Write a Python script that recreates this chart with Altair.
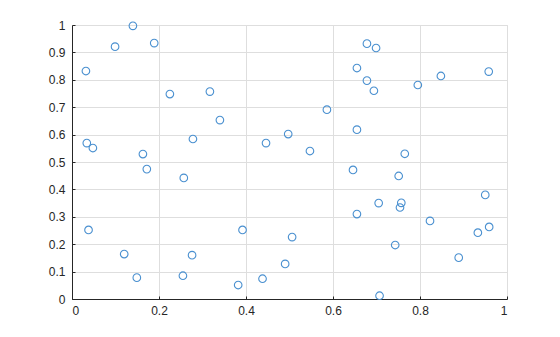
import altair as alt
import pandas as pd

xs = [0.032, 0.140, 0.099, 0.189, 0.225, 0.317, 0.340, 0.034, 0.048, 0.163,
      0.278, 0.446, 0.497, 0.678, 0.699, 0.655, 0.678, 0.694, 0.795, 0.848,
      0.958, 0.586, 0.655, 0.547, 0.765, 0.172, 0.257, 0.038, 0.120, 0.149,
      0.255, 0.276, 0.392, 0.382, 0.438, 0.490, 0.506, 0.646, 0.751, 0.950,
      0.705, 0.757, 0.754, 0.655, 0.823, 0.933, 0.959, 0.743, 0.889, 0.707]
ys = [0.832, 0.997, 0.921, 0.934, 0.748, 0.757, 0.653, 0.569, 0.551, 0.529,
      0.584, 0.569, 0.602, 0.932, 0.916, 0.843, 0.797, 0.760, 0.781, 0.814,
      0.830, 0.691, 0.618, 0.540, 0.530, 0.474, 0.442, 0.252, 0.164, 0.078,
      0.085, 0.160, 0.252, 0.051, 0.074, 0.128, 0.226, 0.471, 0.449, 0.380,
      0.350, 0.351, 0.334, 0.310, 0.285, 0.242, 0.263, 0.197, 0.151, 0.012]

x_ticks = [0, 0.2, 0.4, 0.6, 0.8, 1]
y_ticks = [0, 0.1, 0.2, 0.3, 0.4, 0.5, 0.6, 0.7, 0.8, 0.9, 1]

df = pd.DataFrame({"x": xs, "y": ys})

axis_common = dict(
    format="~g",
    domainColor="#262626",
    domainWidth=1,
    tickSize=0,
    grid=True,
    gridColor="#dedede",
    gridWidth=1,
    labelFont="Liberation Sans",
    labelFontSize=12,
    labelColor="#262626",
    title=None,
)

tick_axis = dict(
    labels=False, domain=False, grid=False, tickSize=3, offset=-3,
    tickColor="#262626", tickWidth=1, title=None,
)

xscale = alt.Scale(domain=[0, 1], nice=False)
yscale = alt.Scale(domain=[0, 1], nice=False)

points = alt.Chart(df).mark_point(
    shape="circle", filled=False, size=58, color="#4a90d0", strokeWidth=1.1, opacity=1
).encode(
    x=alt.X("x:Q", scale=xscale,
            axis=alt.Axis(values=x_ticks, labelPadding=6, orient="bottom", **axis_common)),
    y=alt.Y("y:Q", scale=yscale,
            axis=alt.Axis(values=y_ticks, labelPadding=7, orient="left", **axis_common)),
)

ticks = alt.Chart(df).mark_point(opacity=0).encode(
    x=alt.X("x:Q", scale=xscale, axis=alt.Axis(values=x_ticks, orient="bottom", **tick_axis)),
    y=alt.Y("y:Q", scale=yscale, axis=alt.Axis(values=y_ticks, orient="left", **tick_axis)),
)

chart = alt.layer(points, ticks).resolve_axis(
    x="independent", y="independent"
).properties(
    width=435, height=274,
    autosize=alt.AutoSizeParams(type="none"),
    padding={"left": 72, "top": 25, "right": 53, "bottom": 38},
).configure_view(
    stroke="#dedede", strokeWidth=1
).configure(background="white")

chart.save("out.html", embed_options={"renderer": "svg", "actions": False})
